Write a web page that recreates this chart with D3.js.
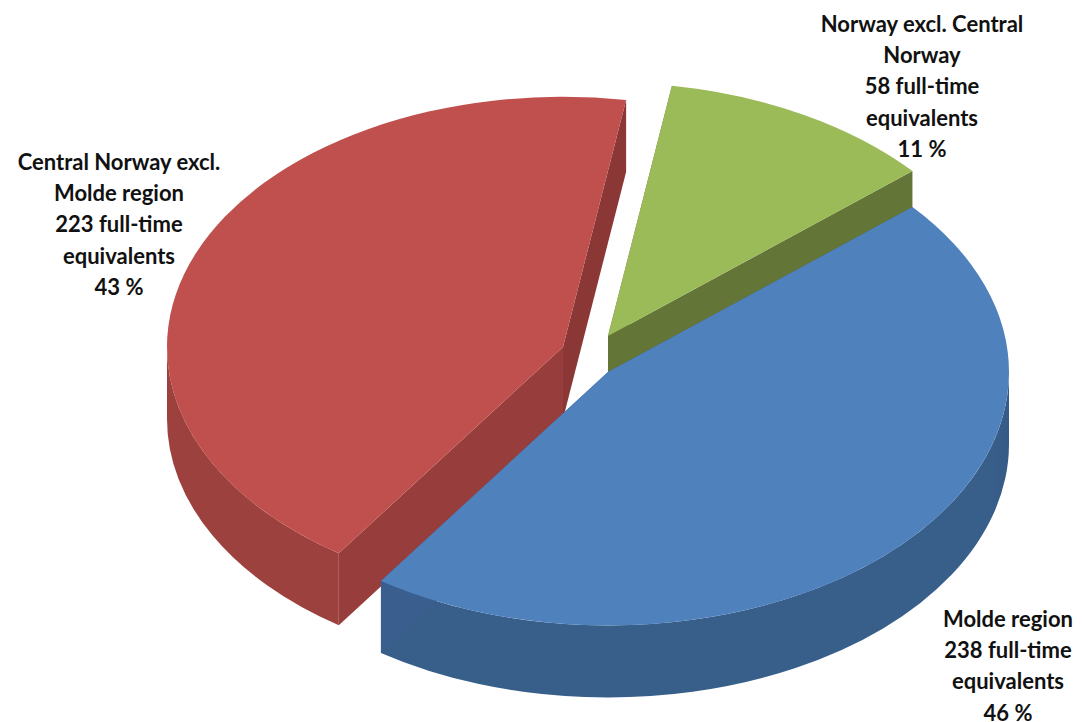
<!DOCTYPE html>
<html>
<head>
<meta charset="utf-8">
<script src="https://cdn.jsdelivr.net/npm/d3@7/dist/d3.min.js"></script>
<style>
  html, body { margin: 0; padding: 0; background: #fff; }
  svg { display: block; }
  text { font-family: Lato, "Open Sans", sans-serif; font-weight: 700; font-size: 22px; fill: #111; text-anchor: middle; }
</style>
</head>
<body>
<svg id="chart" width="1082" height="722"></svg>
<script>
// Employment by region, full-time equivalents
const regions = ["Molde region", "Central Norway excl. Molde region", "Norway excl. Central Norway"];
const fullTime = [238, 223, 58];
const labelLines = [
  ["Molde region"],
  ["Central Norway excl.", "Molde region"],
  ["Norway excl. Central", "Norway"]
];

// Colours per slice: top face, cut faces (start, end), outer wall gradient
const topColors = ["#4f81bd", "#c0504d", "#9bbb59"];
const startWallColors = ["#3a5f8e", "#973d3b", "#647637"];
const endWallColors = ["#3a5f8e", "#8a3735", "#647637"];
const rimFrom = ["#385e8a", "#9d413f", "#647637"];
const rimTo = ["#1f334f", "#853533", "#647637"];

// Exploded centres and radii of the tilted disc
const centers = [[608, 372], [563, 347], [608, 336]];
const radii = [401, 396, 401];
const labelAnchors = [[1008, 627], [119, 170], [922, 32]];
const tilt = 0.632;
const depth = 72;
const lineHeight = 31.2;
const firstAngle = 49.4 * Math.PI / 180;

const svg = d3.select("#chart");
const defs = svg.append("defs");

const total = d3.sum(fullTime);
const pct = d3.format(".0f");
const slices = d3.pie().sort(null).startAngle(firstAngle).endAngle(firstAngle + 2 * Math.PI)(fullTime);
const arc = d3.arc().innerRadius(0);

// A point on the rim of a slice, in screen space before the tilt
const rimPoint = (r, a) => [r * Math.sin(a), -r * Math.cos(a)];

// Outer wall between two pie angles, written in untilted coordinates
function rimWall(r, a0, a1, h) {
  const p = d3.path();
  const s = a => a - Math.PI / 2;
  const first = rimPoint(r, a0);
  p.moveTo(first[0], first[1]);
  // Pie angles run clockwise, so the descending sweep on screen is anticlockwise = false
  p.arc(0, 0, r, s(a0), s(a1), false);
  const last = rimPoint(r, a1);
  p.lineTo(last[0], last[1] + h);
  p.arc(0, h, r, s(a1), s(a0), true);
  p.closePath();
  return p.toString();
}

// Flat cut face running from the centre out to the rim at one angle
function cutWall(r, a, h) {
  const q = rimPoint(r, a);
  const p = d3.path();
  p.moveTo(0, 0);
  p.lineTo(q[0], q[1]);
  p.lineTo(q[0], q[1] + h);
  p.lineTo(0, h);
  p.closePath();
  return p.toString();
}

// Back to front: green, red, blue
const order = [2, 1, 0];
order.forEach(i => {
  const d = slices[i];
  const [cx, cy] = centers[i];
  const r = radii[i];
  const h = depth / tilt;
  const g = svg.append("g")
    .attr("class", "slice")
    .attr("transform", `translate(${cx},${cy}) scale(1,${tilt})`);

  // Shading runs left to right across the part of the wall that faces the viewer
  const lo = Math.max(d.startAngle, Math.PI / 2);
  const hi = Math.min(d.endAngle, 3 * Math.PI / 2);
  if (hi > lo) {
    const xs = [rimPoint(r, lo)[0], rimPoint(r, hi)[0]];
    const gid = "rim" + i;
    const grad = defs.append("linearGradient")
      .attr("id", gid)
      .attr("gradientUnits", "userSpaceOnUse")
      .attr("x1", cx + d3.min(xs)).attr("x2", i === 0 ? cx + 32 : cx + d3.max(xs))
      .attr("y1", 0).attr("y2", 0);
    grad.append("stop").attr("offset", 0).attr("stop-color", rimFrom[i]);
    grad.append("stop").attr("offset", 1).attr("stop-color", rimTo[i]);
    // The gradient is in page x; resolve it on an untransformed wrapper
    svg.append("g")
      .attr("class", "wall")
      .append("path")
      .attr("transform", `translate(${cx},${cy}) scale(1,${tilt})`)
      .attr("d", rimWall(r, lo, hi, h))
      .attr("fill", "url(#" + gid + ")");
  }

  const wrap = svg.append("g").attr("transform", `translate(${cx},${cy}) scale(1,${tilt})`);
  wrap.append("path").attr("d", cutWall(r, d.startAngle, h)).attr("fill", startWallColors[i]);
  wrap.append("path").attr("d", cutWall(r, d.endAngle, h)).attr("fill", endWallColors[i]);
  wrap.append("path")
    .attr("d", arc({ innerRadius: 0, outerRadius: r, startAngle: d.startAngle, endAngle: d.endAngle }))
    .attr("fill", topColors[i]);
  g.remove();
});

// Category labels with count and share
regions.forEach((name, i) => {
  const lines = labelLines[i].concat([
    fullTime[i] + " full-time",
    "equivalents",
    pct(fullTime[i] / total * 100) + " %"
  ]);
  const t = svg.append("text")
    .attr("x", labelAnchors[i][0])
    .attr("y", labelAnchors[i][1])
    .attr("aria-label", name);
  t.selectAll("tspan").data(lines).join("tspan")
    .attr("x", labelAnchors[i][0])
    .attr("dy", (_, k) => k ? lineHeight : 0)
    .text(l => l);
});
</script>
</body>
</html>
